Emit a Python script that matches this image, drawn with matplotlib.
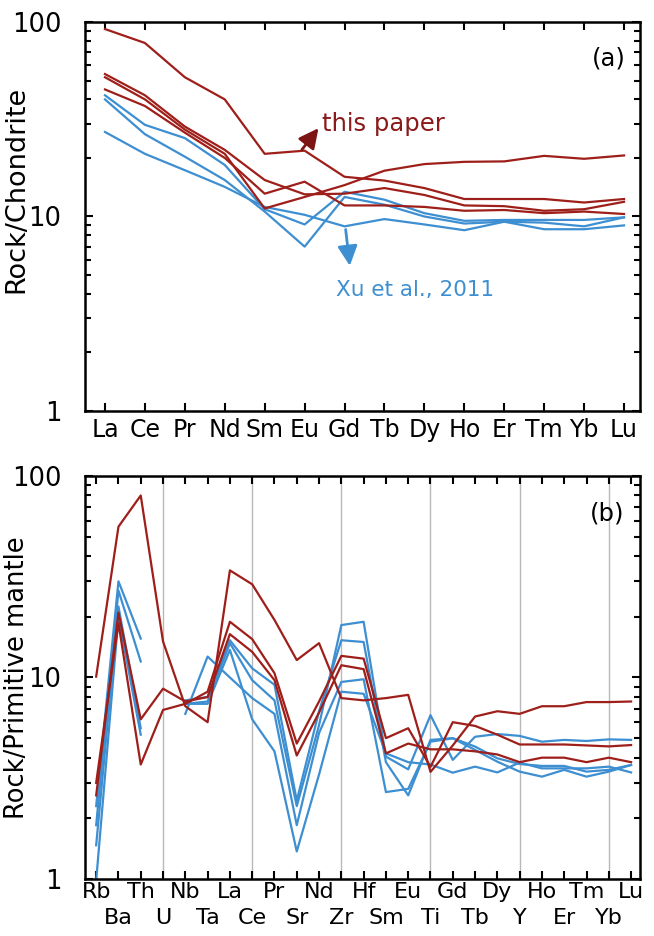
import matplotlib
matplotlib.use('Agg')
import matplotlib.pyplot as plt
import numpy as np
from matplotlib.ticker import FixedLocator, LogLocator, NullFormatter, FuncFormatter

nan = np.nan

# ---- panel (a): chondrite-normalised REE ----
ree = ['La', 'Ce', 'Pr', 'Nd', 'Sm', 'Eu', 'Gd', 'Tb', 'Dy', 'Ho', 'Er', 'Tm', 'Yb', 'Lu']

ree_this_1 = [92, 78, 52, 40, 21.0, 21.8, 16.0, 15.3, 14.0, 12.3, 12.3, 12.3, 11.8, 12.3]
ree_this_2 = [52, 40, 28, 21, 11.0, 12.6, 14.5, 17.2, 18.6, 19.1, 19.2, 20.5, 19.8, 20.6]
ree_this_3 = [54, 42, 29, 22, 15.4, 13.0, 13.1, 14.0, 12.9, 11.4, 11.3, 10.7, 10.9, 11.9]
ree_this_4 = [45, 37, 27, 20, 13.1, 15.1, 11.4, 11.4, 11.2, 10.7, 10.8, 10.4, 10.6, 10.3]

ree_xu_1 = [42, 29.6, 25.3, 18.4, 10.9, 9.1, 13.4, 12.2, 10.4, 9.5, 9.6, 9.6, 9.6, 9.9]
ree_xu_2 = [40, 26.5, 20.3, 15.4, 10.6, 7.0, 12.6, 11.5, 10.0, 9.2, 9.4, 8.6, 8.6, 9.0]
ree_xu_3 = [27.2, 21.0, 17.3, 14.2, 11.2, 10.2, 8.9, 9.7, 9.1, 8.5, 9.4, 9.3, 8.9, 9.9]

# ---- panel (b): primitive-mantle-normalised spider diagram ----
spider = ['Rb', 'Ba', 'Th', 'U', 'Nb', 'Ta', 'La', 'Ce', 'Pr', 'Sr', 'Nd', 'Zr', 'Hf',
          'Sm', 'Eu', 'Ti', 'Gd', 'Tb', 'Dy', 'Y', 'Ho', 'Er', 'Tm', 'Yb', 'Lu']

pm_this_1 = [10.1, 56, 80, 15.1, 7.2, 6.0, 34, 29, 19.3, 12.2, 14.8, 7.9, 7.7,
             7.9, 8.2, 3.4, 4.6, 6.4, 6.8, 6.6, 7.2, 7.2, 7.55, 7.55, 7.6]
pm_this_2 = [3.0, 18.6, 3.7, 6.9, 7.4, 8.5, 18.9, 15.5, 10.5, 4.7, 7.6, 12.8, 12.4,
             5.0, 5.6, 3.6, 6.0, 5.75, 5.2, 4.65, 4.65, 4.65, 4.6, 4.55, 4.62]
pm_this_3 = [2.6, 21, 6.2, 8.8, 7.6, 8.0, 16.4, 13.4, 9.7, 4.1, 6.7, 11.5, 11.0,
             4.2, 4.7, 4.4, 4.4, 4.3, 4.15, 3.8, 4.0, 4.0, 3.8, 4.0, 3.8]

pm_xu_1 = [1.85, 27, 12.0, nan, 7.4, 7.6, 14.8, 9.7, 7.7, 2.3, 5.8, 18.2, 18.9,
           4.05, 3.5, 6.5, 3.9, 5.08, 5.24, 5.13, 4.8, 4.9, 4.84, 4.93, 4.9]
pm_xu_2 = [2.3, 30, 15.6, nan, 7.7, 8.0, 15.3, 11.1, 9.2, 2.45, 6.8, 15.3, 15.0,
           3.8, 2.6, 4.9, 5.0, 4.54, 3.97, 3.72, 3.64, 3.64, 3.41, 3.48, 3.68]
pm_xu_3 = [1.47, 22.5, 5.6, nan, 6.6, 12.7, 10.0, 7.9, 6.6, 1.85, 5.3, 9.5, 9.8,
           2.7, 2.8, 4.8, 4.99, 4.37, 3.82, 3.41, 3.22, 3.48, 3.22, 3.41, 3.68]
pm_xu_4 = [0.98, 20, 5.2, nan, 7.4, 7.4, 13.7, 6.2, 4.3, 1.37, 3.3, 8.5, 8.3,
           4.2, 3.8, 3.7, 3.37, 3.61, 3.38, 3.78, 3.54, 3.54, 3.54, 3.61, 3.38]

red = '#9E1F1A'
blue = '#3D8FD1'

fig = plt.figure(figsize=(6.54, 9.36), dpi=100)
ax1 = fig.add_axes([0.130, 0.5609, 0.8486, 0.4156])
ax2 = fig.add_axes([0.130, 0.0609, 0.8486, 0.4306])


def style(ax):
    ax.set_yscale('log')
    ax.set_ylim(1, 100)
    for s in ax.spines.values():
        s.set_linewidth(1.8)
    ax.tick_params(which='both', direction='in', top=True, right=True, width=1.5)
    ax.tick_params(which='major', length=6)
    ax.tick_params(which='minor', length=4)
    ax.tick_params(axis='y', which='major', labelsize=18.5, pad=17)
    ax.yaxis.set_major_locator(FixedLocator([1, 10, 100]))
    ax.yaxis.set_major_formatter(FuncFormatter(lambda v, p: f'{v:g}'))
    ax.yaxis.set_minor_locator(LogLocator(subs=np.arange(2, 10)))
    ax.yaxis.set_minor_formatter(NullFormatter())


# panel (a)
x1 = np.arange(len(ree))
for s in [ree_xu_1, ree_xu_2, ree_xu_3]:
    ax1.plot(x1, s, color=blue, lw=1.6)
for s in [ree_this_1, ree_this_2, ree_this_3, ree_this_4]:
    ax1.plot(x1, s, color=red, lw=1.6)
style(ax1)
ax1.set_xlim(-0.5, 13.4)
ax1.set_xticks(x1)
ax1.set_xticklabels(ree)
ax1.tick_params(axis='x', labelsize=17, pad=5)
ax1.set_ylabel('Rock/Chondrite', fontsize=19.5)
ax1.yaxis.set_label_coords(-0.10, 0.57)
ax1.text(0.944, 0.907, '(a)', transform=ax1.transAxes, fontsize=17.5,
         ha='center', va='center')
ax1.annotate('', xy=(5.39, 29.2), xytext=(4.89, 21.5),
             arrowprops=dict(arrowstyle='-|>', color='#7E1515', lw=2, mutation_scale=30))
ax1.text(5.44, 29.9, 'this paper', color='#8B1A1A', fontsize=17.5, va='center', ha='left')
ax1.annotate('', xy=(6.14, 5.4), xytext=(6.02, 8.86),
             arrowprops=dict(arrowstyle='-|>', color=blue, lw=2, mutation_scale=30))
ax1.text(5.79, 4.19, 'Xu et al., 2011', color=blue, fontsize=15.5, va='center', ha='left')

# panel (b)
x2 = np.arange(len(spider))
for g in range(3, len(spider), 4):
    ax2.axvline(g, color='#b8b8b8', lw=1, zorder=0)
for s in [pm_xu_1, pm_xu_2, pm_xu_3, pm_xu_4]:
    ax2.plot(x2, s, color=blue, lw=1.6)
for s in [pm_this_1, pm_this_2, pm_this_3]:
    ax2.plot(x2, s, color=red, lw=1.6)
style(ax2)
ax2.set_xlim(-0.5, 24.4)
# even elements on the upper label row, odd ones on the lower row
ax2.set_xticks(x2[::2])
ax2.set_xticklabels(spider[::2])
ax2.set_xticks(x2[1::2], minor=True)
ax2.set_xticklabels(spider[1::2], minor=True)
ax2.tick_params(axis='x', which='major', labelsize=16, pad=2)
ax2.tick_params(axis='x', which='minor', labelsize=16, pad=21, length=6)
ax2.set_ylabel('Rock/Primitive mantle', fontsize=18.5)
ax2.yaxis.set_label_coords(-0.10, 0.5)
ax2.text(0.94, 0.908, '(b)', transform=ax2.transAxes, fontsize=17.5,
         ha='center', va='center')

fig.savefig('out.png', dpi=100)
